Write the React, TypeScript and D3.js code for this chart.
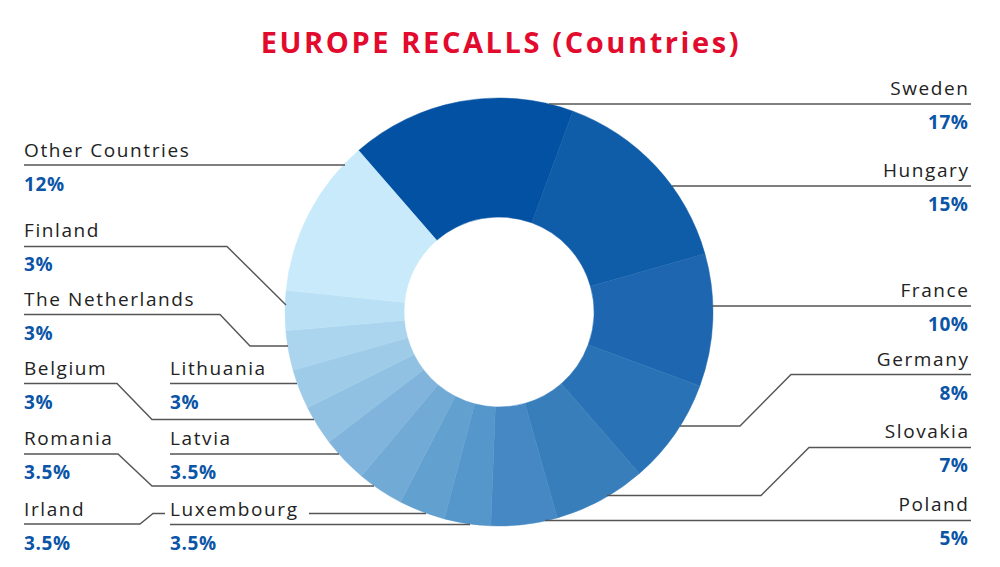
import React from "react";
import * as d3 from "d3";

const countries = ["Sweden", "Hungary", "France", "Germany", "Slovakia", "Poland", "Luxembourg", "Irland", "Romania", "Latvia", "Belgium", "Lithuania", "The Netherlands", "Finland", "Other Countries"];
const shares = [17, 15, 10, 8, 7, 5, 3.5, 3.5, 3.5, 3.5, 3, 3, 3, 3, 12];
const shareLabels = ["17%", "15%", "10%", "8%", "7%", "5%", "3.5%", "3.5%", "3.5%", "3.5%", "3%", "3%", "3%", "3%", "12%"];
const sliceColors = ["#0251A2", "#0F5CA8", "#1E67B0", "#2A72B6", "#387EBB", "#4588C4", "#5596CB", "#62A0D0", "#72AAD6", "#80B4DC", "#90C0E2", "#9ECBE8", "#ABD5EF", "#BAE0F5", "#C9EAFA"];

// label layout: [text x, anchor, name baseline y, leader path]
type LabelSpec = { x: number; anchor: "start" | "end"; y: number; path: [number, number][]; extra?: [number, number][] };
const labelSpecs: Record<string, LabelSpec> = {
  Sweden: { x: 968, anchor: "end", y: 95, path: [[971, 104], [549, 104]] },
  Hungary: { x: 968, anchor: "end", y: 177, path: [[971, 186], [672, 186]] },
  France: { x: 968, anchor: "end", y: 297, path: [[971, 306], [712, 306]] },
  Germany: { x: 968, anchor: "end", y: 366, path: [[971, 374.5], [791, 374.5], [740, 426], [680, 426]] },
  Slovakia: { x: 968, anchor: "end", y: 438, path: [[971, 447.5], [809, 447.5], [761, 495.5], [607, 495.5]] },
  Poland: { x: 968, anchor: "end", y: 511, path: [[971, 520.5], [545, 520.5]] },
  "Other Countries": { x: 24, anchor: "start", y: 157, path: [[24, 165], [345, 165]] },
  Finland: { x: 24, anchor: "start", y: 237, path: [[24, 246.5], [227, 246.5], [286, 305]] },
  "The Netherlands": { x: 24, anchor: "start", y: 306, path: [[24, 314.5], [220, 314.5], [250, 346], [288, 346]] },
  Belgium: { x: 24, anchor: "start", y: 375, path: [[24, 383.5], [117, 383.5], [152, 419.5], [314, 419.5]] },
  Lithuania: { x: 170, anchor: "start", y: 375, path: [[170, 383.5], [297, 383.5]] },
  Romania: { x: 24, anchor: "start", y: 445, path: [[24, 454], [118, 454], [152, 486], [374, 486]] },
  Latvia: { x: 170, anchor: "start", y: 445, path: [[170, 454], [339, 454]] },
  Irland: { x: 24, anchor: "start", y: 516, path: [[24, 524], [140, 524], [153, 513.5], [165, 513.5]], extra: [[309, 513.5], [426, 513.5]] },
  Luxembourg: { x: 170, anchor: "start", y: 516, path: [[170, 524.5], [470, 524.5]] },
};

const W = 1000;
const H = 567;
const cx = 499;
const cy = 312;
const outerR = 214;
const innerR = 95;
const startDeg = -41;

export default function App() {
  const data = countries.map((c, i) => ({ name: c, value: shares[i], label: shareLabels[i], color: sliceColors[i] }));
  const pie = d3
    .pie<any>()
    .value((d) => d.value)
    .sort(null)
    .startAngle((startDeg * Math.PI) / 180)
    .endAngle((startDeg * Math.PI) / 180 + 2 * Math.PI);
  const arcs = pie(data);
  const arc = d3.arc<any>().innerRadius(innerR).outerRadius(outerR);
  const line = d3.line();
  const font = "'Open Sans', sans-serif";
  const nameLS = 1.6;
  const pctLS = 0.6;

  return (
    <svg width={W} height={H} style={{ position: "absolute", left: 0, top: 0, background: "#fff" }}>
      <text x={501} y={53} textAnchor="middle" fill="#E20A2D" fontFamily={font} fontWeight={700} fontSize={29} letterSpacing={2.6}>
        EUROPE RECALLS (Countries)
      </text>
      <g transform={`translate(${cx},${cy})`}>
        {arcs.map((a, i) => (
          <path key={i} d={arc(a) as string} fill={a.data.color} stroke={a.data.color} strokeWidth={0.5} />
        ))}
      </g>
      {data.map((d) => {
        const s = labelSpecs[d.name];
        const isEnd = s.anchor === "end";
        return (
          <g key={d.name}>
            <path d={line(s.path) as string} fill="none" stroke="#555" strokeWidth={1.4} />
            {s.extra && <path d={line(s.extra) as string} fill="none" stroke="#555" strokeWidth={1.4} />}
            <text x={isEnd ? s.x + nameLS : s.x} y={s.y} textAnchor={s.anchor} fill="#222" fontFamily={font} fontSize={19} letterSpacing={nameLS}>
              {d.name}
            </text>
            <text x={isEnd ? s.x + pctLS : s.x} y={s.y + 34} textAnchor={s.anchor} fill="#0B55A7" fontFamily={font} fontWeight={700} fontSize={19} letterSpacing={pctLS}>
              {d.label}
            </text>
          </g>
        );
      })}
    </svg>
  );
}
